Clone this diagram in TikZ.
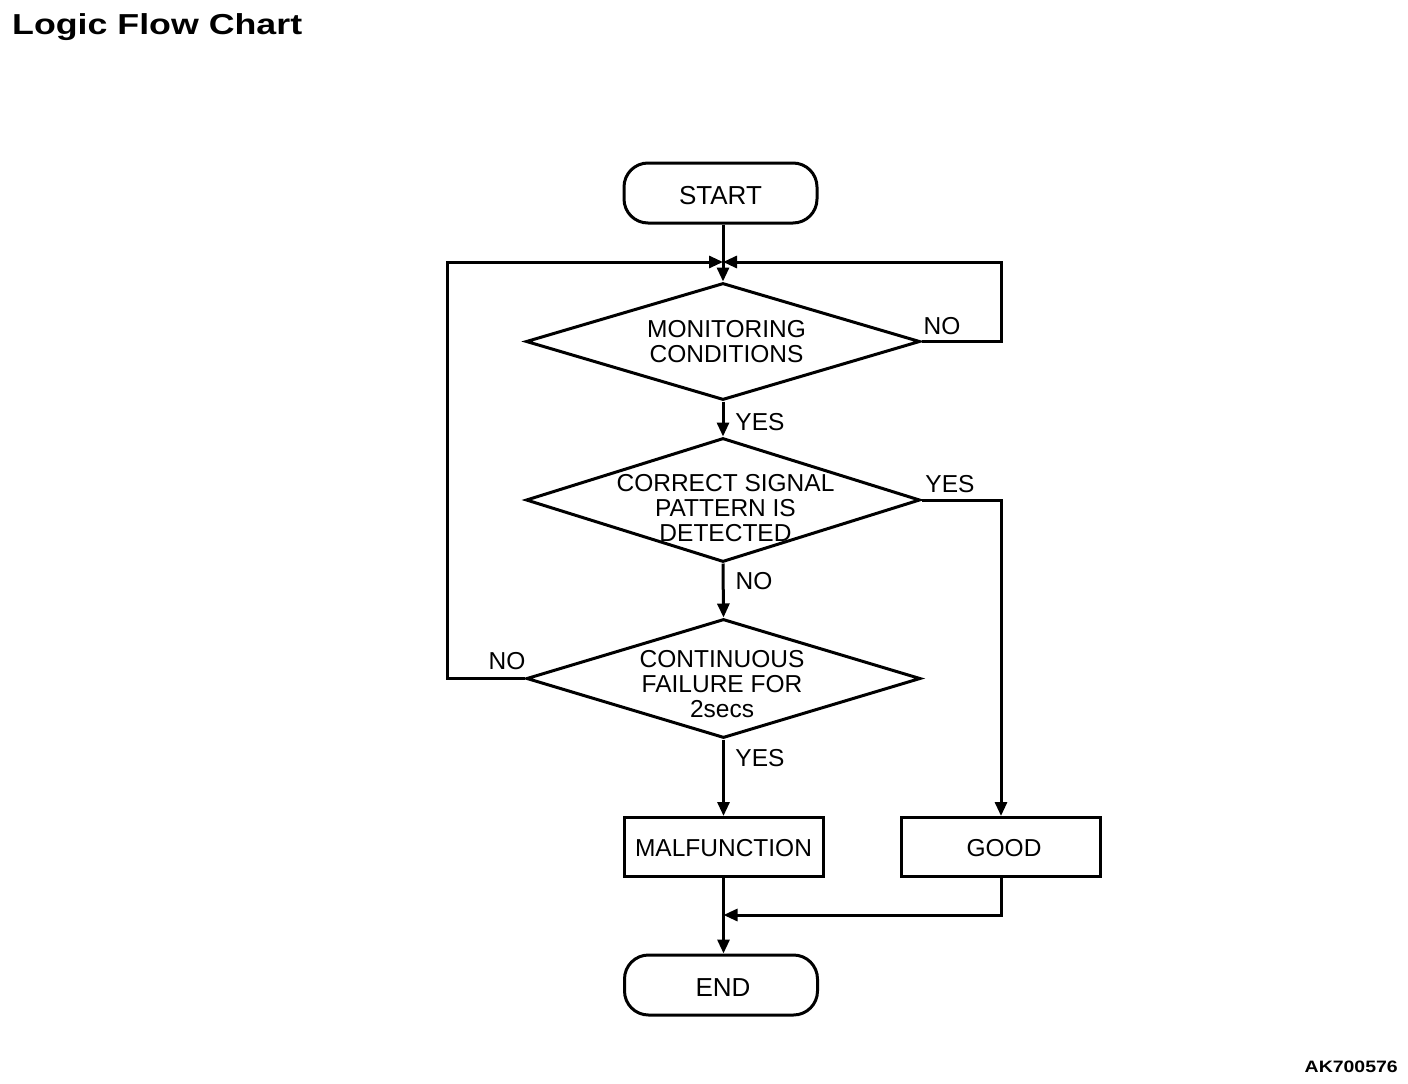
\documentclass[tikz,border=0pt]{standalone}
\usepackage{fontspec}
\usepackage{graphicx}
\setmainfont{Liberation Sans}
\usetikzlibrary{arrows.meta,shapes.geometric}
\begin{document}
\begin{tikzpicture}[x=1pt,y=-1pt,
  every node/.style={font=\fontsize{24.5}{25}\selectfont},
  base/.style={draw=black,line width=3pt,inner sep=0pt},
  term/.style={base,rectangle,rounded corners=24pt,minimum width=193pt,minimum height=60pt,font=\fontsize{26}{27}\selectfont,text height=22.6pt,text depth=0pt},
  proc/.style={base,rectangle,minimum width=199pt,minimum height=59pt,text height=19.5pt,text depth=0pt},
  dec/.style={base,diamond,minimum width=394pt},
  dtext/.style={align=center,inner sep=0pt},
  lbl/.style={inner sep=0pt},
  arr/.style={line width=3pt,-{Triangle[length=14pt,width=12pt]}},
  ln/.style={line width=3pt}
]
\useasboundingbox (0,0) rectangle (1408,1084);

\node[anchor=base west,inner sep=0pt] (title) at (12,34)
  {\scalebox{1.3}[1.05]{\fontsize{27.5}{30}\selectfont\bfseries Logic Flow Chart}};
\node[anchor=base east,inner sep=0pt] (code) at (1398,1072)
  {\scalebox{1.18}[1]{\fontsize{16.5}{18}\selectfont\bfseries AK700576}};

\node[term] (start) at (720.5,193) {START};
\node[dec,minimum height=117pt] (d1) at (723,341.5) {};
\node[dtext] (t1) at (726.5,341.5) {MONITORING\\CONDITIONS};
\node[dec,minimum height=124pt] (d2) at (723,500) {};
\node[dtext] (t2) at (725.5,508) {CORRECT SIGNAL\\PATTERN IS\\DETECTED};
\node[dec,minimum height=119pt] (d3) at (723.5,678.5) {};
\node[dtext] (t3) at (722,684.5) {CONTINUOUS\\FAILURE FOR\\2secs};
\node[proc] (mal) at (723.5,847) {MALFUNCTION};
\node[proc] (good) at (1001,847) {\hspace*{6pt}GOOD};
\node[term] (end) at (721,985) {\hspace*{4pt}END};

\coordinate (J) at (723,262);
\coordinate (L1) at (447,262);
\coordinate (L2) at (447,678.5);
\coordinate (R1) at (1001,262);
\coordinate (R2) at (1001,341.5);
\coordinate (G1) at (1001,500);
\coordinate (G2) at (1001,915);
\coordinate (M) at (723.5,915);

\draw[ln] (J |- start.south) -- (J);
\draw[arr] (J) -- (d1.north);
\draw[arr] (d1.east) -- (R2) -- (R1) -- (J);
\draw[arr] (d3.west) -- (L2) -- (L1) -- (J);
\draw[arr] (d1.south) -- (d2.north);
\draw[arr] (d2.east) -- (G1) -- (good.north);
\draw[arr] (d2.south) -- (d3.north);
\draw[arr] (d3.south) -- (mal.north);
\draw[arr] (mal.south) -- (mal.south |- end.north);
\draw[arr] (good.south) -- (G2) -- (M);

\node[lbl] (no1) at (942,326) {NO};
\node[lbl] (yes1) at (760,422) {YES};
\node[lbl] (yes2) at (950,484) {YES};
\node[lbl] (no2) at (754,581) {NO};
\node[lbl] (no3) at (507,661) {NO};
\node[lbl] (yes3) at (760,758) {YES};
\end{tikzpicture}
\end{document}
